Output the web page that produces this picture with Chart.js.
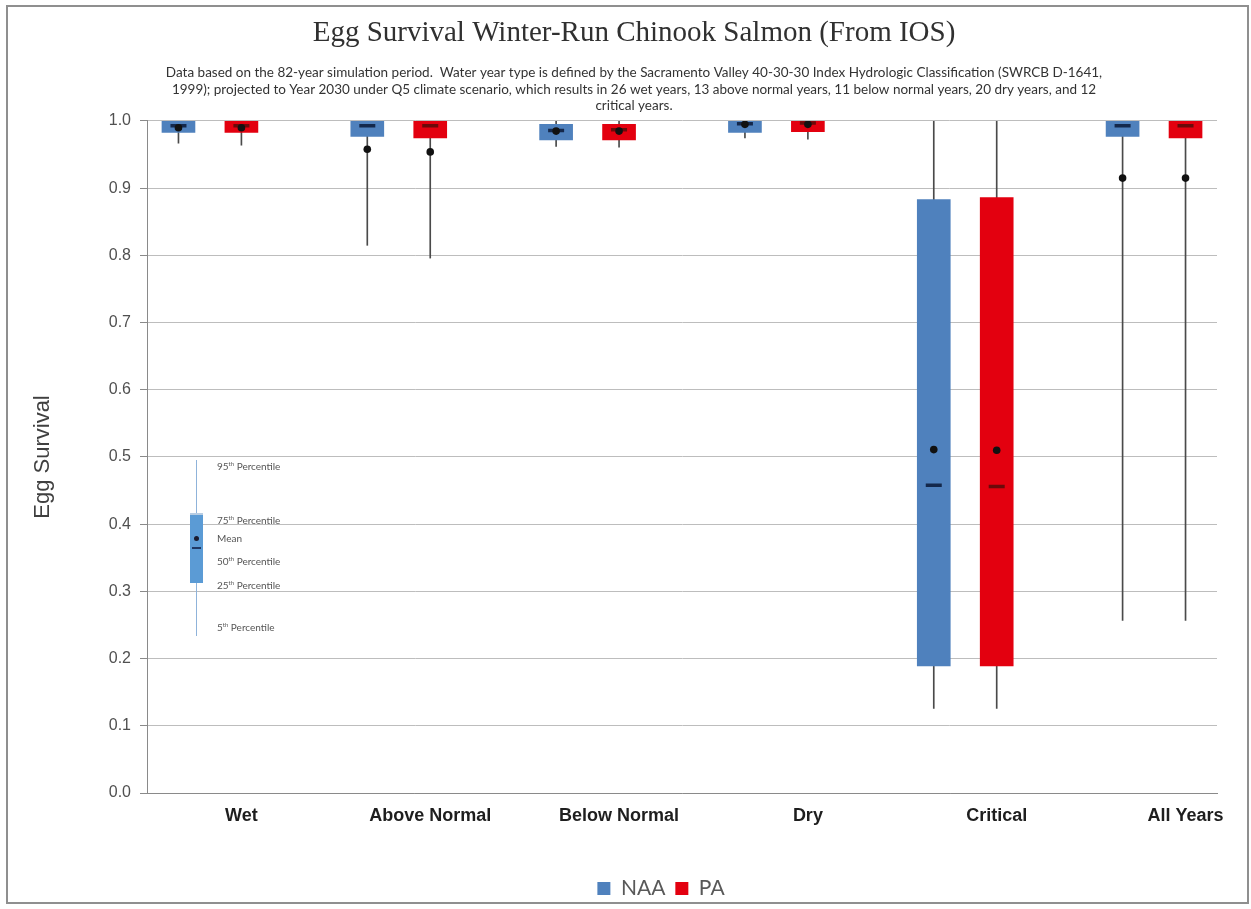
<!DOCTYPE html>
<html>
<head>
<meta charset="utf-8">
<script src="https://cdn.jsdelivr.net/npm/chart.js@4"></script>
<style>
  html, body { margin: 0; padding: 0; background: #ffffff; }
  #wrap { position: relative; width: 1251px; height: 909px; overflow: hidden; }
  #c { position: absolute; left: 0; top: 0; }
  #frame { position: absolute; left: 6px; top: 5px; width: 1239px; height: 895px; border: 2px solid #8f8f8f; pointer-events: none; }
  .inset { position: absolute; pointer-events: none; }
  .ilab { position: absolute; left: 217px; font-family: 'Lato', 'Open Sans', sans-serif; font-size: 10px; color: #555; white-space: nowrap; transform: translateY(-50%); }
  .ilab sup { font-size: 6px; vertical-align: 4px; }
</style>
</head>
<body>
<div id="wrap">
  <canvas id="c" width="1251" height="909"></canvas>
  <div id="frame"></div>
  <!-- inset key (illustration of a box) -->
  <div class="inset" style="left:196px;top:460px;width:1px;height:176px;background:#8fb3da;"></div>
  <div class="inset" style="left:190px;top:513px;width:13px;height:70px;background:#5b9bd5;border-top:2px solid #b8cde3;box-sizing:border-box;"></div>
  <div class="inset" style="left:194px;top:536px;width:5px;height:5px;border-radius:50%;background:#1a1a2e;"></div>
  <div class="inset" style="left:192px;top:547px;width:9px;height:2px;background:#1f3864;"></div>
  <div class="ilab" style="top:466px;">95<sup>th</sup> Percentile</div>
  <div class="ilab" style="top:520px;">75<sup>th</sup> Percentile</div>
  <div class="ilab" style="top:538px;">Mean</div>
  <div class="ilab" style="top:561px;">50<sup>th</sup> Percentile</div>
  <div class="ilab" style="top:585px;">25<sup>th</sup> Percentile</div>
  <div class="ilab" style="top:627px;">5<sup>th</sup> Percentile</div>
</div>
<script>
// ---------- data ----------
const groups = ['Wet', 'Above Normal', 'Below Normal', 'Dry', 'Critical', 'All Years'];
const seriesNames = ['NAA', 'PA'];
const yTicks = [0.0, 0.1, 0.2, 0.3, 0.4, 0.5, 0.6, 0.7, 0.8, 0.9, 1.0];

const naaP5   = [0.967, 0.815, 0.962, 0.975, 0.126, 0.257];
const naaP25  = [0.983, 0.977, 0.972, 0.983, 0.189, 0.977];
const naaP50  = [0.993, 0.993, 0.986, 0.996, 0.458, 0.993];
const naaP75  = [1.000, 1.000, 0.995, 1.000, 0.883, 1.000];
const naaP95  = [1.000, 1.000, 1.000, 1.000, 1.000, 1.000];
const naaMean = [0.990, 0.958, 0.985, 0.995, 0.511, 0.915];

const paP5   = [0.964, 0.796, 0.961, 0.973, 0.126, 0.257];
const paP25  = [0.983, 0.975, 0.972, 0.984, 0.189, 0.975];
const paP50  = [0.993, 0.993, 0.987, 0.997, 0.456, 0.993];
const paP75  = [1.000, 1.000, 0.995, 1.000, 0.886, 1.000];
const paP95  = [1.000, 1.000, 1.000, 1.000, 1.000, 1.000];
const paMean = [0.990, 0.954, 0.985, 0.995, 0.510, 0.915];

const titleText = 'Egg Survival Winter-Run Chinook Salmon (From IOS)';
const subtitleLines = [
  'Data based on the 82-year simulation period.  Water year type is defined by the Sacramento Valley 40-30-30 Index Hydrologic Classification (SWRCB D-1641,',
  '1999); projected to Year 2030 under Q5 climate scenario, which results in 26 wet years, 13 above normal years, 11 below normal years, 20 dry years, and 12',
  'critical years.'
];
const yTitle = 'Egg Survival';

// ---------- build slot structure: [NAA, PA, gap] per group ----------
const SLOTS = groups.length * 3 - 1;
const slotLabels = [];
for (let i = 0; i < SLOTS; i++) slotLabels.push(i % 3 === 1 ? groups[(i - 1) / 3] : '');

function place(offset, fn) {
  const arr = new Array(SLOTS).fill(null);
  groups.forEach((g, i) => { arr[i * 3 + offset] = fn(i); });
  return arr;
}

const NAA_COLOR = '#4f81bd';
const PA_COLOR = '#e3000f';
const WHISKER = '#4a4a4a';

const datasets = [
  { type: 'bar', label: '', data: place(0, i => [naaP5[i], naaP95[i]]), backgroundColor: WHISKER, barThickness: 1, grouped: false, order: 5 },
  { type: 'bar', label: '', data: place(1, i => [paP5[i], paP95[i]]), backgroundColor: WHISKER, barThickness: 1, grouped: false, order: 5 },
  { type: 'bar', label: seriesNames[0], data: place(0, i => [naaP25[i], naaP75[i]]), backgroundColor: NAA_COLOR, barThickness: 33, grouped: false, order: 4 },
  { type: 'bar', label: seriesNames[1], data: place(1, i => [paP25[i], paP75[i]]), backgroundColor: PA_COLOR, barThickness: 33, grouped: false, order: 4 },
  { type: 'line', label: '', data: place(0, i => naaP50[i]), showLine: false, pointStyle: 'line', pointRadius: 8, borderWidth: 3.5, borderColor: '#14284b', backgroundColor: '#14284b', order: 2 },
  { type: 'line', label: '', data: place(1, i => paP50[i]), showLine: false, pointStyle: 'line', pointRadius: 8, borderWidth: 3.5, borderColor: '#6a0a0a', backgroundColor: '#6a0a0a', order: 2 },
  { type: 'line', label: '', data: place(0, i => naaMean[i]), showLine: false, pointStyle: 'circle', pointRadius: 3.8, borderWidth: 0, backgroundColor: '#111111', order: 1 },
  { type: 'line', label: '', data: place(1, i => paMean[i]), showLine: false, pointStyle: 'circle', pointRadius: 3.8, borderWidth: 0, backgroundColor: '#111111', order: 1 }
];

// nudge the bottom legend to sit where the original's legend sits
const legendNudge = {
  id: 'legendNudge',
  afterLayout(chart) {
    const lg = chart.legend;
    if (lg) { lg.left -= 21; lg.right -= 21; }
  }
};

new Chart(document.getElementById('c'), {
  data: { labels: slotLabels, datasets },
  plugins: [legendNudge],
  options: {
    responsive: false,
    animation: false,
    devicePixelRatio: 1,
    layout: { padding: { top: 10, left: 17, right: 0, bottom: 0 } },
    plugins: {
      title: {
        display: true, text: titleText, color: '#303030',
        font: { family: "'Liberation Serif', 'Times New Roman', serif", size: 29, weight: 'normal' },
        padding: { top: 5.6, bottom: 0 }
      },
      subtitle: {
        display: true, text: subtitleLines, color: '#333333',
        font: { family: "'Lato', 'Open Sans', sans-serif", size: 13.5, lineHeight: 1.2222 },
        padding: { top: 14.35, bottom: 6.75 }
      },
      legend: {
        position: 'bottom', fullSize: false,
        labels: {
          filter: item => item.text !== '',
          boxWidth: 13, boxHeight: 13, padding: 10, color: '#595959',
          font: { family: "'Lato', 'Open Sans', sans-serif", size: 21 }
        }
      },
      tooltip: { enabled: false }
    },
    scales: {
      x: {
        type: 'category',
        offset: true,
        grid: { display: true, drawOnChartArea: false, drawTicks: false },
        border: { display: true, color: '#8a8a8a', width: 1 },
        ticks: {
          autoSkip: false, maxRotation: 0, minRotation: 0, padding: 12, color: '#1e1e1e',
          font: { family: "'Liberation Sans', Arial, sans-serif", size: 18, weight: 'bold' }
        },
        afterFit: s => { s.height = 75; }
      },
      y: {
        type: 'linear', position: 'left', min: 0, max: 1,
        afterBuildTicks: s => { s.ticks = yTicks.map(v => ({ value: v })); },
        ticks: {
          padding: 9, color: '#505050',
          font: { family: "'Liberation Sans', Arial, sans-serif", size: 16 },
          callback: v => Number(v).toFixed(1)
        },
        grid: { color: '#bdbdbd', lineWidth: 1, tickLength: 7, tickColor: '#8a8a8a' },
        border: { display: true, color: '#8a8a8a', width: 1 },
        title: {
          display: true, text: yTitle, color: '#404040',
          font: { family: "'Liberation Sans', Arial, sans-serif", size: 22 },
          padding: { top: 12.8, bottom: 0 }
        },
        afterFit: s => { s.width = 130; }
      },
      yRight: {
        type: 'linear', position: 'right', min: 0, max: 1, display: true,
        grid: { display: false, drawTicks: false },
        border: { display: false },
        ticks: { display: false },
        afterFit: s => { s.width = 34; }
      }
    }
  }
});
</script>
</body>
</html>
